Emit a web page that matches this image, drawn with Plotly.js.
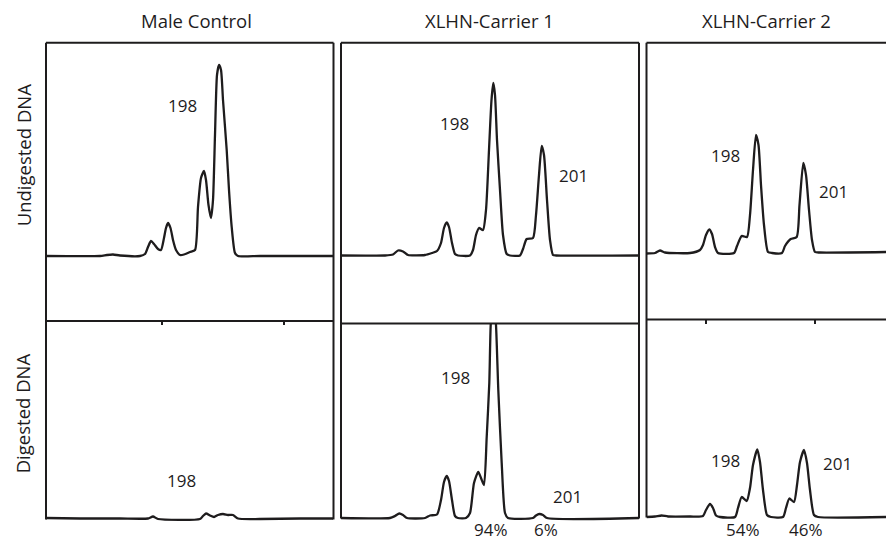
<!DOCTYPE html>
<html><head><meta charset="utf-8">
<script src="https://cdn.plot.ly/plotly-3.0.1.min.js"></script>
<style>html,body{margin:0;padding:0;background:#fff}#chart{width:886px;height:543px}</style>
</head><body><div id="chart"></div>
<script>
// ---------- DATA (x = position along trace, y = signal) ----------
const columnTitles = ['Male Control', 'XLHN-Carrier 1', 'XLHN-Carrier 2'];
const rowTitles = ['Undigested DNA', 'Digested DNA'];

// Male control, undigested
const maleUndigX = [0,54,61,67,74,94,99,102,105,108,112,115,118,120,122,124.5,127,130,134,138,144,149,152,155,158,160,162.5,165,167,169,171,173,175,177,180.7,183,185.7,189,192,214,287];
const maleUndigY = [0,0,1,1.5,0.5,0,2,9,15,12,7,6,18,28,33,28,16,6,1,1.5,4,6,49,78,85,76,51,38,56,121,181,191,186,156,106,66,29,3,0,0,0];
// Male control, digested
const maleDigX = [0,34,74,102,107,112,154,157,160,164,168,172,177,182,187,192,214,254,287];
const maleDigY = [1,0.5,0.5,0.5,2.5,0,0,3,5.5,3.5,2,4,5,4,4,0.5,0,0.5,0.5];

// Carrier 1, undigested
const car1UndigX = [0,44,52,57,62,67,84,91,96,100,103,105.7,108,111,114,117,129,132,135,138,142,145,148,150.5,152.3,154,156,159,162,165.7,169,179,182,185.7,192,195,198,200.7,203,206,209,212,215,298];
const car1UndigY = [0,0,1,5,4,0.5,0.5,2.5,4.5,12.5,27.5,33,28.5,12.5,1.5,0,0,5.5,20.5,27.5,25.5,45.5,105.5,155.5,172.5,160.5,115.5,65.5,20.5,1.5,0,0,6.5,16.5,17.5,40.5,80.5,109.5,100.5,55.5,15.5,0.5,0,0];
// Carrier 1, digested
const car1DigX = [0,49,54,58.3,62,66,84,89,96,100,103,105.7,108,111,114,117,125,129,133,137.3,140,143,145.7,148.3,149.7,152.3,155,157.3,160.7,164,167,192,195,198.3,202,206,298];
const car1DigY = [0,0,2,4.5,3,0,0,2.5,3.5,18,36,42,37,18,2,0,0,5,35,46,40,33,81,135,193,228,193,128,55,5,0,0,2.5,4,3,0,0];

// Carrier 2, undigested
const car2UndigX = [0,8.5,13.5,18.5,43.5,53.5,56.5,59.5,62.8,65.5,68.5,71.5,87.5,90.5,95.2,100.5,103.5,106.5,109.5,112,114.5,117.5,121.5,125.5,135.5,138.5,144.2,150.2,153,156.8,159.5,162.5,165.5,168.5,173.5,239.5];
const car2UndigY = [0,0.5,3,1,0.5,3.5,8.5,18.5,24,19.5,6.5,0.5,0.5,7.5,17.5,16.5,38.5,83.5,118.5,108.5,68.5,28.5,1.5,0.5,0.5,7.5,14.5,16.5,48.5,90.5,78.5,43.5,13.5,1.5,1,1.5];
// Carrier 2, digested
const car2DigX = [0,8.5,15.2,21.5,43.5,56.5,59.5,63.5,66.5,69.5,73.5,88.5,91.5,95.2,100.2,103.5,106.5,110.8,113.5,116.5,120.5,124.5,136.5,139.5,142.8,147.5,150.5,153.5,157.5,160.5,163.5,167.5,171.5,239.5];
const car2DigY = [0,0.5,1.5,0.5,0.5,1,7,13,9,1.5,0,0,9,20,16,29,52,67.5,55,27,2,0,0,9,18.5,15,32,55,67,54,27,2,0,0];

// Peak labels per panel: text, x, y
const peakText = [['198'], ['198','201'], ['198','201'], ['198'], ['198','201'], ['198','201']];
const peakX    = [[136.7], [113,232.3], [78.5,186.8], [135.7], [114,226.3], [78.5,190.8]];
const peakY    = [[151], [132,80.5], [97.8,62.5], [39], [140.3,21.3], [56.3,53.7]];

// Allele percentages under the digested panels
const pctText = ['94%', '6%', '54%', '46%'];
const pctCol  = [1, 1, 2, 2];
const pctX    = [150, 205, 96.8, 159.5];

// Small reference ticks on the top edge of the digested panels
const tickPos = [[116, 238], [], [59.5, 168.5]];

// ---------- LAYOUT GEOMETRY (pixels) ----------
const W = 886, H = 543;
const cols = [
  {l: 46,   r: 333.5, top: 42.7, base: 256,   mid: 321,   bot: 519},
  {l: 341,  r: 639,   top: 42.7, base: 255.5, mid: 323.5, bot: 518},
  {l: 646.5,r: 886,   top: 42.7, base: 253.5, mid: 319.5, bot: 517, noRight: true}
];
const fx = p => p / W, fy = p => 1 - p / H;
const ink = '#1e1c1d';
const FONT = '"Open Sans", "Noto Sans", sans-serif';

const seriesX = [maleUndigX, car1UndigX, car2UndigX, maleDigX, car1DigX, car2DigX];
const seriesY = [maleUndigY, car1UndigY, car2UndigY, maleDigY, car1DigY, car2DigY];

const data = [];
const layout = {
  width: W, height: H, margin: {l: 0, r: 0, t: 0, b: 0},
  paper_bgcolor: '#fff', plot_bgcolor: 'rgba(0,0,0,0)',
  showlegend: false, shapes: [], annotations: []
};

const ann = (o) => layout.annotations.push(Object.assign({
  showarrow: false, xanchor: 'center', yanchor: 'middle'
}, o));

for (let i = 0; i < 6; i++) {
  const c = cols[i % 3];
  const isTop = i < 3;
  const n = i + 1;
  const xa = 'xaxis' + (n === 1 ? '' : n), ya = 'yaxis' + (n === 1 ? '' : n);
  const xr = 'x' + (n === 1 ? '' : n), yr = 'y' + (n === 1 ? '' : n);
  data.push({
    type: 'scatter', mode: 'lines', x: seriesX[i], y: seriesY[i],
    xaxis: xr, yaxis: yr, hoverinfo: 'skip',
    line: {color: ink, width: 2.3, shape: 'spline', smoothing: 0.6}
  });
  const ticks = isTop ? [] : tickPos[i % 3];
  layout[xa] = {
    domain: [fx(c.l), Math.min(1, fx(c.r))], range: [0, c.r - c.l],
    showgrid: false, zeroline: false, showline: false, showticklabels: false,
    anchor: yr, side: isTop ? 'bottom' : 'top',
    ticks: ticks.length ? 'inside' : '', tickvals: ticks, ticklen: 4, tickwidth: 1.5, tickcolor: ink,
    fixedrange: true
  };
  const yBottomPx = isTop ? c.base : c.bot;
  const yTopPx = isTop ? c.top : c.mid;
  layout[ya] = {
    domain: [fy(yBottomPx + 3), fy(yTopPx)], range: [-3, yBottomPx - yTopPx],
    showgrid: false, zeroline: false, showline: false, showticklabels: false, ticks: '',
    anchor: xr, fixedrange: true
  };
  peakText[i].forEach((t, k) => ann({
    text: t, x: peakX[i][k], y: peakY[i][k], xref: xr, yref: yr,
    font: {family: FONT, size: 17, color: ink}
  }));
}

// panel frames
cols.forEach(c => {
  const L = (x0, y0, x1, y1) => layout.shapes.push({
    type: 'line', xref: 'paper', yref: 'paper',
    x0: fx(x0), y0: fy(y0), x1: fx(x1), y1: fy(y1),
    line: {color: ink, width: 2}
  });
  L(c.l, c.top, c.l, c.bot + 0.5);
  if (!c.noRight) L(c.r, c.top, c.r, c.bot + 0.5);
  L(c.l, c.top, c.r, c.top);
  L(c.l, c.mid, c.r, c.mid);
});

// column titles
const titleX = [196.7, 489.3, 766.7];
columnTitles.forEach((t, k) => ann({
  text: t, x: fx(titleX[k]), y: fy(20.7), xref: 'paper', yref: 'paper',
  font: {family: FONT, size: 18.5, color: ink}
}));
// row titles
const rowY = [155, 413];
rowTitles.forEach((t, k) => ann({
  text: t, x: fx(23.3), y: fy(rowY[k]), xref: 'paper', yref: 'paper', textangle: -90,
  font: {family: FONT, size: 18.5, color: ink}
}));
// percentages (sit right at the lower edge, as in the source figure)
pctText.forEach((t, k) => {
  const c = cols[pctCol[k]];
  ann({
    text: t, x: fx(c.l + pctX[k]), y: 0, yanchor: 'bottom', xref: 'paper', yref: 'paper',
    font: {family: FONT, size: 17, color: ink}
  });
});

Plotly.newPlot('chart', data, layout, {staticPlot: true, displayModeBar: false});
</script>
</body></html>
